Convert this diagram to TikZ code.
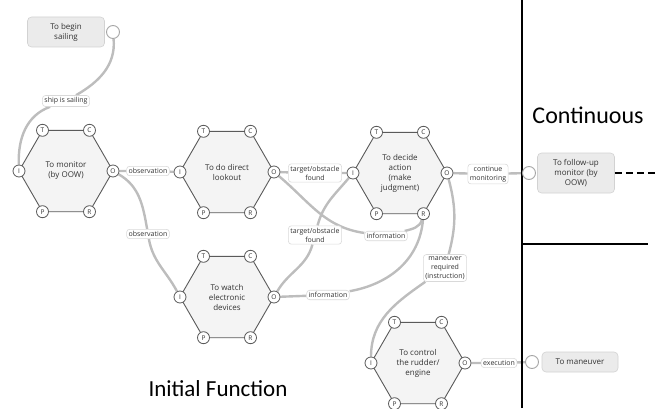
\documentclass[tikz,border=0pt]{standalone}
\usepackage{fontspec}
\setmainfont{Open Sans}
\newfontfamily\bigfont{Carlito}
\usetikzlibrary{calc,backgrounds}
\definecolor{hexline}{HTML}{5A5A5A}
\definecolor{hexfill}{HTML}{F4F4F4}
\definecolor{boxfill}{HTML}{EBEBEB}
\definecolor{conncol}{HTML}{BDBDBD}
\definecolor{txtcol}{HTML}{333333}
\tikzset{
  hexbody/.style={draw=hexline, fill=hexfill, line width=0.9pt, line join=round},
  hextext/.style={align=center, font=\fontsize{8}{10}\selectfont, text=txtcol},
  port/.style={circle, draw=hexline, fill=white, line width=0.8pt, minimum size=12pt, inner sep=0pt, font=\fontsize{6.5}{6.5}\selectfont, text=txtcol},
  oport/.style={circle, draw=gray!70, fill=white, line width=0.9pt, minimum size=13pt, inner sep=0pt},
  lbl/.style={draw=gray!30, fill=white, rounded corners=3pt, align=center, inner sep=2pt, line width=0.6pt, font=\fontsize{7}{9}\selectfont, text=txtcol},
  termbox/.style={draw=gray!35, fill=boxfill, rounded corners=4pt, align=center, line width=0.6pt, font=\fontsize{8}{10}\selectfont, text=txtcol, inner sep=0pt},
  conn/.style={draw=conncol, line width=2.4pt},
  divider/.style={draw=black, line width=2pt},
}
\newcommand\hexfn[4]{%
  \coordinate (#1) at (#2,#3);
  \filldraw[hexbody] ($(#1)+(-23.5,40.7)$) -- ($(#1)+(23.5,40.7)$) -- ($(#1)+(47,0)$) -- ($(#1)+(23.5,-40.7)$) -- ($(#1)+(-23.5,-40.7)$) -- ($(#1)+(-47,0)$) -- cycle;
  \node[hextext] (#1txt) at (#1) {#4};
  \node[port] (#1T) at ($(#1)+(-23.5,40.7)$) {T};
  \node[port] (#1C) at ($(#1)+(23.5,40.7)$) {C};
  \node[port] (#1O) at ($(#1)+(47,0)$) {O};
  \node[port] (#1R) at ($(#1)+(23.5,-40.7)$) {R};
  \node[port] (#1P) at ($(#1)+(-23.5,-40.7)$) {P};
  \node[port] (#1I) at ($(#1)+(-47,0)$) {I};
}
\begin{document}
\begin{tikzpicture}[x=1pt,y=1pt]
\useasboundingbox (0,0) rectangle (656,408);
% dividers
\draw[divider] (522,0) -- (522,408);
\draw[divider] (522,164) -- (648,164);
\node[font=\bigfont\fontsize{24}{24}\selectfont] (conttitle) at (588,293) {Continuous};
\node[font=\bigfont\fontsize{23}{23}\selectfont] (inittitle) at (218,19) {Initial Function};
% hexagons
\hexfn{mon}{66}{237}{To monitor\\(by OOW)}
\hexfn{look}{227}{236}{To do direct\\lookout}
\hexfn{dec}{400}{235}{To decide\\action\\(make\\judgment)}
\hexfn{watch}{227}{111}{To watch\\electronic\\devices}
\hexfn{ctl}{418}{45}{To control\\the rudder/\\engine}
% terminal boxes
\node[termbox, minimum width=77pt, minimum height=30pt] (begin) at (66,376) {To begin\\sailing};
\node[oport] (beginP) at (113,376) {};
\node[termbox, minimum width=77pt, minimum height=40pt] (fup) at (576,235) {To follow-up\\monitor (by\\OOW)};
\node[oport] (fupP) at (529,235) {};
\node[termbox, minimum width=76pt, minimum height=20pt] (man) at (580,46) {To maneuver};
\node[oport] (manP) at (532,46) {};
\coordinate (dashend) at (656,235);
% labels
\node[lbl] (ship) at (66,307) {ship is sailing};
\node[lbl] (obsA) at (148,237) {observation};
\node[lbl] (obsB) at (148,174) {observation};
\node[lbl] (tofA) at (315,235) {target/obstacle\\found};
\node[lbl] (tofB) at (315,173) {target/obstacle\\found};
\node[lbl] (infoA) at (386,172) {information};
\node[lbl] (infoB) at (328,113) {information};
\node[lbl] (cont) at (488,234) {continue\\monitoring};
\node[lbl] (manreq) at (445,140) {maneuver\\required\\(instruction)};
\node[lbl] (exec) at (499,45) {execution};
% connectors
\begin{pgfonlayer}{background}
\draw[conn] (beginP) to[out=-85,in=30] (ship);
\draw[conn] (ship) to[out=200,in=92] (monI);
\draw[conn] (monO) -- (obsA) -- (lookI);
\draw[conn] (monO) to[out=-30,in=100] (obsB);
\draw[conn] (obsB) to[out=-80,in=118] (watchI);
\draw[conn] (lookO) -- (tofA) -- (decI);
\draw[conn] (lookO) to[out=-40,in=172] (infoA);
\draw[conn] (infoA) to[out=15,in=-105] (decR);
\draw[conn] (watchO) to[out=60,in=-105] (tofB);
\draw[conn] (tofB) to[out=75,in=-130] (decI);
\draw[conn] (watchO) -- (infoB);
\draw[conn] (infoB) to[out=10,in=-95] (decR);
\draw[conn] (decO) to[out=-75,in=75] (manreq);
\draw[conn] (manreq) to[out=-145,in=90] (ctlI);
\draw[conn] (decO) -- (cont) -- (fupP);
\draw[conn] (ctlO) -- (exec) -- (manP);
\end{pgfonlayer}
\draw[line width=2.6pt, dash pattern=on 7pt off 4pt] (fup.east) -- (dashend);
\end{tikzpicture}
\end{document}
